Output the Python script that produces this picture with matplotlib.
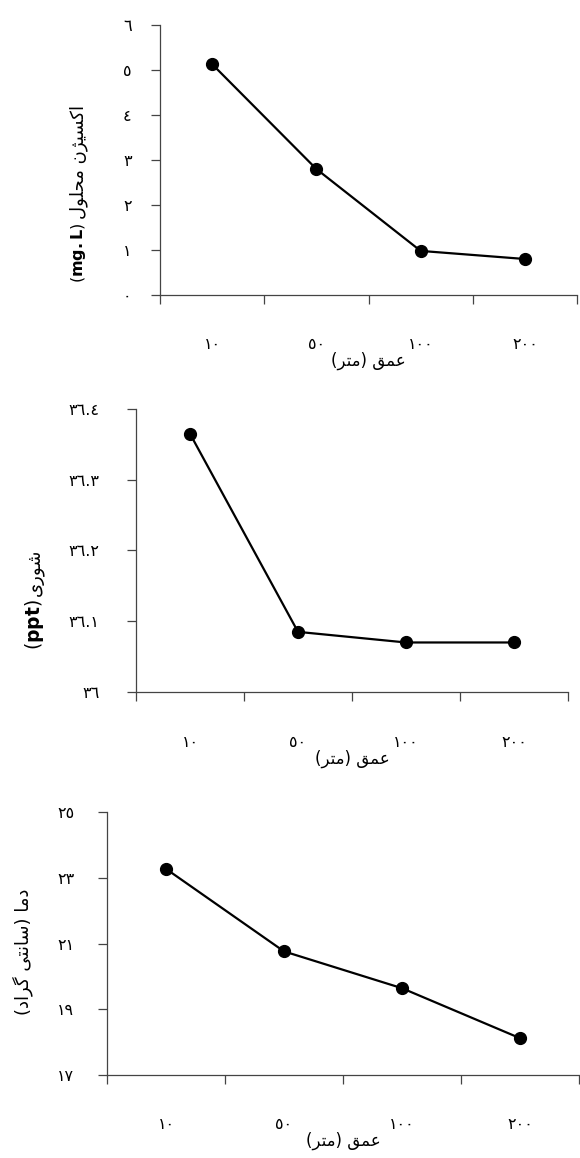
import numpy as np
import matplotlib.pyplot as plt

# داده ها
depth_labels = ['10', '50', '100', '200']
oxygen = [5.13, 2.80, 0.98, 0.80]
salinity = [36.365, 36.085, 36.07, 36.07]
temperature = [23.27, 20.76, 19.64, 18.12]

oxygen_ticks = [0, 1, 2, 3, 4, 5, 6]
salinity_ticks = [36.0, 36.1, 36.2, 36.3, 36.4]
temperature_ticks = [17, 19, 21, 23, 25]

xlabel_fa = 'عمق (متر)'
oxygen_label_fa = 'اکسیژن محلول'
salinity_label_fa = 'شوری'
temperature_label_fa = 'دما (سانتی گراد)'

# matplotlib خودش حروف عربی را به هم نمی چسباند، پس شکل حروف را دستی می سازیم
# isolated, final, initial, medial
FORMS = {
    '\u0627': ('\uFE8D', '\uFE8E'),
    '\u062F': ('\uFEA9', '\uFEAA'),
    '\u0631': ('\uFEAD', '\uFEAE'),
    '\u0698': ('\uFB8A', '\uFB8B'),
    '\u0648': ('\uFEED', '\uFEEE'),
    '\u062A': ('\uFE95', '\uFE96', '\uFE97', '\uFE98'),
    '\u062D': ('\uFEA1', '\uFEA2', '\uFEA3', '\uFEA4'),
    '\u0633': ('\uFEB1', '\uFEB2', '\uFEB3', '\uFEB4'),
    '\u0634': ('\uFEB5', '\uFEB6', '\uFEB7', '\uFEB8'),
    '\u0639': ('\uFEC9', '\uFECA', '\uFECB', '\uFECC'),
    '\u0642': ('\uFED5', '\uFED6', '\uFED7', '\uFED8'),
    '\u06A9': ('\uFB8E', '\uFB8F', '\uFB90', '\uFB91'),
    '\u06AF': ('\uFB92', '\uFB93', '\uFB94', '\uFB95'),
    '\u0644': ('\uFEDD', '\uFEDE', '\uFEDF', '\uFEE0'),
    '\u0645': ('\uFEE1', '\uFEE2', '\uFEE3', '\uFEE4'),
    '\u0646': ('\uFEE5', '\uFEE6', '\uFEE7', '\uFEE8'),
    '\u06CC': ('\uFBFC', '\uFBFD', '\uFBFE', '\uFBFF'),
}


def rtl(text):
    text = text.replace('\u0643', '\u06A9').replace('\u064A', '\u06CC')
    out = []
    for i, ch in enumerate(text):
        f = FORMS.get(ch)
        if f is None:
            out.append({'(': ')', ')': '('}.get(ch, ch))
            continue
        prev = text[i - 1] if i > 0 else ''
        nxt = text[i + 1] if i + 1 < len(text) else ''
        jp = prev in FORMS and len(FORMS[prev]) == 4
        jn = len(f) == 4 and nxt in FORMS
        if jp and jn:
            out.append(f[3])
        elif jp:
            out.append(f[1])
        elif jn:
            out.append(f[2])
        else:
            out.append(f[0])
    return ''.join(out[::-1])


def fa_num(v):
    s = f'{v:g}'
    return s.translate(str.maketrans('0123456789', '٠١٢٣٤٥٦٧٨٩'))


plt.rcParams['font.family'] = ['DejaVu Sans']

W, H = 580, 1158
fig = plt.figure(figsize=(W / 100, H / 100), dpi=100)


def px_axes(l, t, r, b):
    return fig.add_axes([l / W, 1 - b / H, (r - l) / W, (b - t) / H])


def draw(ax, values, yticks, ypad, xpad):
    x = np.arange(len(values)) + 0.5
    ax.plot(x, values, color='black', lw=1.6, marker='o', ms=8.5, mfc='black', mec='black')
    ax.set_xlim(0, len(values))
    ax.set_ylim(yticks[0], yticks[-1])
    ax.set_yticks(yticks, [fa_num(v) for v in yticks])
    ax.set_xticks(np.arange(len(values) + 1), [])
    ax.set_xticks(x, [fa_num(int(d)) for d in depth_labels], minor=True)
    ax.tick_params(axis='y', direction='out', length=6.5, width=0.9, color='#444444', pad=ypad, labelsize=11.5)
    ax.tick_params(axis='x', which='major', direction='out', length=6.5, width=0.9, color='#444444')
    ax.tick_params(axis='x', which='minor', length=0, pad=xpad, labelsize=11.5)
    for s in ['top', 'right']:
        ax.spines[s].set_visible(False)
    for s in ['left', 'bottom']:
        ax.spines[s].set_color('#444444')
        ax.spines[s].set_linewidth(0.9)
    ax.set_xlabel(rtl(xlabel_fa), fontsize=12, labelpad=0)


ax1 = px_axes(160, 25, 577, 295)
draw(ax1, oxygen, oxygen_ticks, 14, 30)
ax2 = px_axes(136, 409, 568, 692)
draw(ax2, salinity, salinity_ticks, 20, 31)
ax3 = px_axes(107, 812, 579, 1075)
draw(ax3, temperature, temperature_ticks, 17, 30)

renderer = fig.canvas.get_renderer()


def ylabel_pair(x, bottom, unit, unit_size, label, label_size):
    # واحد در پایین، متن فارسی بلافاصله بالای آن
    t = fig.text(x / W, 1 - bottom / H, unit, rotation=90, ha='center', va='bottom', fontsize=unit_size)
    top = t.get_window_extent(renderer).y1
    fig.text(x / W, (top + 3) / H, rtl(label), rotation=90, ha='center', va='bottom', fontsize=label_size)


ylabel_pair(79, 283, r'($\mathbf{mg{.}L}$)', 11.5, oxygen_label_fa, 13)
ylabel_pair(35, 650, r'($\mathbf{ppt}$)', 13.5, salinity_label_fa, 13)

fig.text(23 / W, 1 - 952 / H, rtl(temperature_label_fa), rotation=90, ha='center', va='center', fontsize=13)

fig.savefig('out.png', dpi=100)
